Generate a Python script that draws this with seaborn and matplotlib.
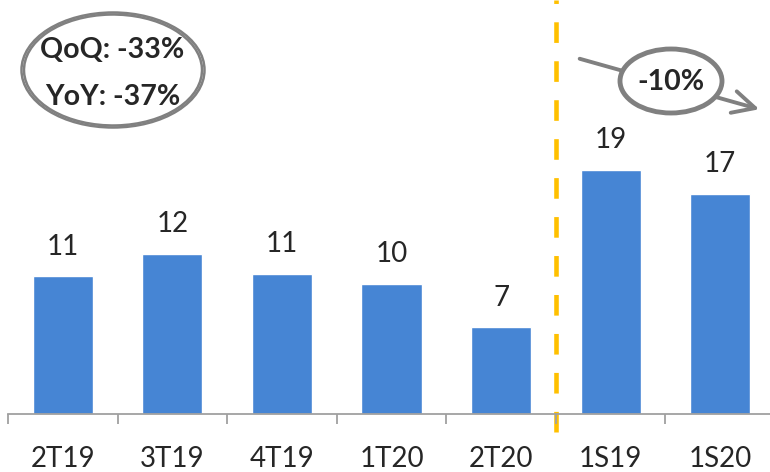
import matplotlib
matplotlib.use('Agg')
import matplotlib.pyplot as plt
from matplotlib.patches import Ellipse
import pandas as pd
import seaborn as sns

# Periods and values
periods = ['2T19', '3T19', '4T19', '1T20', '2T20', '1S19', '1S20']
values = [11.0, 12.8, 11.2, 10.4, 6.9, 19.5, 17.6]
value_labels = ['11', '12', '11', '10', '7', '19', '17']
qoq_text = 'QoQ: -33%'
yoy_text = 'YoY: -37%'
semester_change = '-10%'

df = pd.DataFrame({'Period': periods, 'Value': values})

sns.set_style('white')
plt.rcParams['font.family'] = ['Lato', 'DejaVu Sans']

W, H = 770, 472
fig = plt.figure(figsize=(W / 100, H / 100), dpi=100)

# axes area in pixels: baseline at y=413.7, category boundaries every ~109.6 px from x=8
ax = fig.add_axes([8 / W, (H - 413.7) / H, 767 / W, 413.7 / H])

sns.barplot(data=df, x='Period', y='Value', color='#4685D4', width=0.55,
            saturation=1, ax=ax)

ax.set_xlim(-0.5, 6.5)
ax.set_ylim(0, 33.1)
ax.set_xlabel('')
ax.set_ylabel('')
ax.set_yticks([])

for side in ['left', 'right', 'top']:
    ax.spines[side].set_visible(False)
ax.spines['bottom'].set_color('#A0A0A0')
ax.spines['bottom'].set_linewidth(1.3)

# boundary tick marks, labels on the category centres
ax.set_xticks([i - 0.5 for i in range(len(periods) + 1)])
ax.set_xticklabels([])
ax.tick_params(axis='x', which='major', direction='out', length=7,
               width=1.3, color='#A0A0A0', bottom=True)
ax.set_xticks(range(len(periods)), minor=True)
ax.set_xticklabels(periods, minor=True, fontsize=20)
ax.tick_params(axis='x', which='minor', length=0, pad=23)

ax.bar_label(ax.containers[0], labels=value_labels, padding=12, fontsize=20)

# dashed separator between quarters and semesters
ax.axvline(4.5, ymin=-18 / 413.7, ymax=1, color='#FFC000', lw=3.3,
           dashes=(4.5, 4), clip_on=False, zorder=0)


def fx(x):
    return x / W


def fy(y):
    return 1 - y / H


# QoQ / YoY bubble (hand drawn look)
for w, h, ang in [(183, 115, 0), (178, 111, 2)]:
    fig.add_artist(Ellipse((fx(113), fy(70)), w / W, h / H, angle=ang,
                           transform=fig.transFigure, fill=False,
                           edgecolor='#808080', lw=1.8))
fig.text(fx(112), fy(50), qoq_text, ha='center', va='center',
         fontsize=20.5, fontweight='bold')
fig.text(fx(113), fy(97), yoy_text, ha='center', va='center',
         fontsize=20.5, fontweight='bold')

# semester change arrow
ax.annotate('', xy=(fx(762), fy(110)), xytext=(fx(577), fy(58)),
            xycoords='figure fraction', textcoords='figure fraction',
            arrowprops=dict(arrowstyle='->', color='#808080', lw=2.8,
                            mutation_scale=40))
fig.add_artist(Ellipse((fx(671), fy(81)), 102 / W, 64 / H,
                       transform=fig.transFigure, facecolor='white',
                       edgecolor='#808080', lw=3.5, zorder=5))
fig.text(fx(671), fy(82), semester_change, ha='center', va='center',
         fontsize=20.5, fontweight='bold', zorder=6)

fig.savefig('out.png', dpi=100)
